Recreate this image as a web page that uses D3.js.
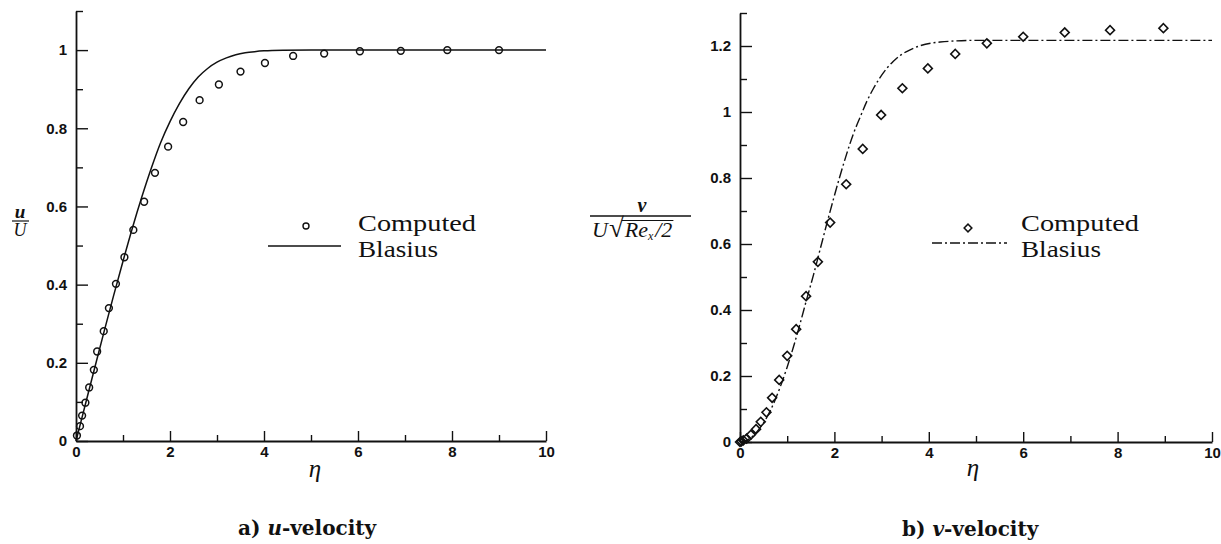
<!DOCTYPE html>
<html>
<head>
<meta charset="utf-8">
<script src="https://cdn.jsdelivr.net/npm/d3@7"></script>
<style>
    body { margin: 0; background: #fff; }
    svg { display: block; }
    .tick text { font-family: "Liberation Sans", Arial, sans-serif; font-size: 15px; font-weight: bold; fill: #111; }
    .serif { font-family: "Liberation Serif", "Times New Roman", serif; fill: #111; }
</style>
</head>
<body>
<svg width="1221" height="544"></svg>
<script>
// axis ticks
var etaTicks = [0, 2, 4, 6, 8, 10];
var etaMinor = [1, 3, 5, 7, 9];
var uTicks = [0, 0.2, 0.4, 0.6, 0.8, 1];
var uMinor = [0.1, 0.3, 0.5, 0.7, 0.9, 1.1];
var vTicks = [0, 0.2, 0.4, 0.6, 0.8, 1, 1.2];
var vMinor = [0.1, 0.3, 0.5, 0.7, 0.9, 1.1, 1.3];

// a) u-velocity, computed points
var uEta = [0.02, 0.085, 0.13, 0.20, 0.28, 0.38, 0.45, 0.59, 0.70, 0.85, 1.03, 1.22, 1.45, 1.68, 1.96, 2.28, 2.63, 3.04, 3.50, 4.02, 4.62, 5.28, 6.04, 6.91, 7.90, 9.00];
var uComputed = [0.014, 0.038, 0.065, 0.098, 0.137, 0.182, 0.229, 0.281, 0.340, 0.402, 0.470, 0.540, 0.612, 0.686, 0.753, 0.816, 0.872, 0.912, 0.945, 0.967, 0.985, 0.991, 0.997, 0.998, 1.0, 1.0];

// a) Blasius curve
var blasiusUEta = [0, 0.2, 0.4, 0.6, 0.8, 1.0, 1.2, 1.4, 1.6, 1.8, 2.0, 2.2, 2.4, 2.6, 2.8, 3.0, 3.2, 3.4, 3.6, 3.8, 4.0, 4.4, 5.0, 6.0, 8.0, 10.0];
var blasiusU = [0, 0.094, 0.188, 0.281, 0.372, 0.460, 0.545, 0.624, 0.697, 0.763, 0.817, 0.863, 0.901, 0.931, 0.953, 0.969, 0.980, 0.988, 0.993, 0.996, 0.998, 0.9995, 1, 1, 1, 1];

// b) v-velocity, computed points
var vEta = [0.0, 0.03, 0.07, 0.14, 0.23, 0.34, 0.44, 0.56, 0.68, 0.83, 1.00, 1.19, 1.40, 1.65, 1.91, 2.25, 2.60, 2.99, 3.44, 3.98, 4.56, 5.23, 6.00, 6.88, 7.84, 8.97];
var vComputed = [0.0, 0.002, 0.005, 0.010, 0.022, 0.039, 0.061, 0.090, 0.134, 0.188, 0.261, 0.342, 0.442, 0.546, 0.665, 0.781, 0.888, 0.991, 1.072, 1.132, 1.176, 1.208, 1.228, 1.241, 1.248, 1.254];

// b) Blasius curve
var blasiusVEta = [0, 0.14, 0.28, 0.42, 0.57, 0.71, 0.85, 0.99, 1.13, 1.27, 1.41, 1.56, 1.70, 1.84, 1.98, 2.12, 2.26, 2.40, 2.55, 2.69, 2.83, 2.97, 3.11, 3.25, 3.39, 3.54, 3.82, 4.24, 4.95, 10.0];
var blasiusV = [0, 0.005, 0.019, 0.042, 0.075, 0.116, 0.166, 0.223, 0.287, 0.357, 0.431, 0.508, 0.585, 0.662, 0.736, 0.807, 0.873, 0.933, 0.986, 1.033, 1.072, 1.105, 1.132, 1.154, 1.171, 1.184, 1.201, 1.212, 1.217, 1.217];

var legendLabels = ['Computed', 'Blasius'];

var svg = d3.select('svg');
var fmt = d3.format('~g');

function zip(xs, ys) {
    return xs.map(function(x, i) { return [x, ys[i]]; });
}

function drawAxes(g, x, y, yTicks, yMinor) {
    var yAxis = g.append('g').attr('transform', 'translate(' + x.range()[0] + ',0)');
    yAxis.call(d3.axisLeft(y).tickValues(yMinor).tickSize(-7).tickSizeOuter(0).tickFormat(''));
    yAxis.append('g').call(d3.axisLeft(y).tickValues(yTicks).tickSize(-12).tickSizeOuter(0).tickPadding(9).tickFormat(fmt))
        .select('.domain').remove();

    var xAxis = g.append('g').attr('transform', 'translate(0,' + y.range()[0] + ')');
    xAxis.call(d3.axisBottom(x).tickValues(etaMinor).tickSize(-6).tickSizeOuter(0).tickFormat(''));
    xAxis.append('g').call(d3.axisBottom(x).tickValues(etaTicks).tickSize(-10).tickSizeOuter(0).tickPadding(5).tickFormat(fmt))
        .select('.domain').remove();

    g.selectAll('.domain').attr('stroke', '#111').attr('stroke-width', 1.8);
    g.selectAll('.tick line').attr('stroke', '#111').attr('stroke-width', 1.4);
}

// legend texts, stretched a little to get the wide look of the original serif
function legendText(g, x) {
    var widths = [118, 80];
    g.selectAll('text.leg').data(legendLabels).enter().append('text')
        .attr('class', 'serif leg')
        .attr('x', x)
        .attr('y', function(d, i) { return 231 + i * 26; })
        .attr('textLength', function(d, i) { return widths[i]; })
        .attr('lengthAdjust', 'spacingAndGlyphs')
        .style('font-size', '23px')
        .text(function(d) { return d; });
}

// ---------- a) u-velocity ----------
var xu = d3.scaleLinear().domain([0, 10]).range([76, 546]);
var yu = d3.scaleLinear().domain([0, 1.1]).range([441, 11]);
var pa = svg.append('g').attr('id', 'uPanel');

drawAxes(pa, xu, yu, uTicks, uMinor);

pa.append('path')
    .datum(zip(blasiusUEta, blasiusU))
    .attr('fill', 'none')
    .attr('stroke', '#111')
    .attr('stroke-width', 1.5)
    .attr('d', d3.line().x(function(d) { return xu(d[0]); }).y(function(d) { return yu(d[1]); }).curve(d3.curveMonotoneX));

pa.selectAll('circle.pt').data(zip(uEta, uComputed)).enter().append('circle')
    .attr('class', 'pt')
    .attr('cx', function(d) { return xu(d[0]); })
    .attr('cy', function(d) { return yu(d[1]); })
    .attr('r', 3.4)
    .attr('fill', 'none')
    .attr('stroke', '#111')
    .attr('stroke-width', 1.5);

// legend
pa.append('circle').attr('cx', 306).attr('cy', 226).attr('r', 3).attr('fill', 'none').attr('stroke', '#111').attr('stroke-width', 1.4);
pa.append('line').attr('x1', 268).attr('x2', 341).attr('y1', 246).attr('y2', 246).attr('stroke', '#111').attr('stroke-width', 1.4);
legendText(pa, 358);

// y label u/U
pa.append('text').attr('class', 'serif').attr('x', 20).attr('y', 218).attr('text-anchor', 'middle')
    .style('font-size', '19px').style('font-style', 'italic').style('font-weight', 'bold').text('u');
pa.append('line').attr('x1', 12).attr('x2', 29).attr('y1', 221).attr('y2', 221).attr('stroke', '#111').attr('stroke-width', 1.2);
pa.append('text').attr('class', 'serif').attr('x', 20).attr('y', 236).attr('text-anchor', 'middle')
    .style('font-size', '18px').style('font-style', 'italic').text('U');

// x label
pa.append('text').attr('class', 'serif').attr('x', 315).attr('y', 477).attr('text-anchor', 'middle')
    .style('font-size', '25px').style('font-style', 'italic').text('η');

// caption
var capA = pa.append('text').attr('x', 238).attr('y', 535)
    .style('font-family', '"DejaVu Serif", serif').style('font-size', '20px').style('font-weight', 'bold').attr('fill', '#111');
capA.append('tspan').text('a) ');
capA.append('tspan').style('font-style', 'italic').text('u');
capA.append('tspan').text('-velocity');

// ---------- b) v-velocity ----------
var xv = d3.scaleLinear().domain([0, 10]).range([740, 1212]);
var yv = d3.scaleLinear().domain([0, 1.3]).range([442, 13]);
var pb = svg.append('g').attr('id', 'vPanel');

drawAxes(pb, xv, yv, vTicks, vMinor);

pb.append('path')
    .datum(zip(blasiusVEta, blasiusV))
    .attr('fill', 'none')
    .attr('stroke', '#111')
    .attr('stroke-width', 1.4)
    .attr('stroke-dasharray', '10,3,2,3')
    .attr('d', d3.line().x(function(d) { return xv(d[0]); }).y(function(d) { return yv(d[1]); }).curve(d3.curveMonotoneX));

var diamond = d3.symbol().type(d3.symbolSquare).size(40);
pb.selectAll('path.pt').data(zip(vEta, vComputed)).enter().append('path')
    .attr('class', 'pt')
    .attr('d', diamond)
    .attr('transform', function(d) { return 'translate(' + xv(d[0]) + ',' + yv(d[1]) + ') rotate(45)'; })
    .attr('fill', 'none')
    .attr('stroke', '#111')
    .attr('stroke-width', 1.6);

// legend
pb.append('path').attr('d', d3.symbol().type(d3.symbolSquare).size(30)).attr('transform', 'translate(968,228) rotate(45)')
    .attr('fill', 'none').attr('stroke', '#111').attr('stroke-width', 1.5);
pb.append('line').attr('x1', 932).attr('x2', 1007).attr('y1', 243).attr('y2', 243)
    .attr('stroke', '#111').attr('stroke-width', 1.4).attr('stroke-dasharray', '10,3,2,3');
legendText(pb, 1021);

// y label v / (U sqrt(Re_x/2))
pb.append('text').attr('class', 'serif').attr('x', 642).attr('y', 212).attr('text-anchor', 'middle')
    .style('font-size', '20px').style('font-style', 'italic').style('font-weight', 'bold').text('v');
pb.append('line').attr('x1', 590).attr('x2', 691).attr('y1', 216).attr('y2', 216).attr('stroke', '#111').attr('stroke-width', 1.3);
var den = pb.append('text').attr('class', 'serif').attr('x', 592).attr('y', 237)
    .style('font-size', '22px').style('font-style', 'italic');
den.append('tspan').text('U');
den.append('tspan').style('font-style', 'normal').style('font-size', '27px').attr('dx', 1).text('√');
den.append('tspan').attr('dx', 1).text('Re');
den.append('tspan').style('font-size', '12px').attr('dy', 3).text('x');
den.append('tspan').attr('dy', -3).attr('dx', 2).text('/2');
// overline of the square root
var dn = den.node();
var sq = dn.getExtentOfChar(1);
var rx1 = dn.getEndPositionOfChar(dn.getNumberOfChars() - 1).x;
pb.append('line').attr('x1', sq.x + sq.width - 2).attr('x2', rx1 + 1)
    .attr('y1', 220.5).attr('y2', 220.5).attr('stroke', '#111').attr('stroke-width', 1.1);

// x label
pb.append('text').attr('class', 'serif').attr('x', 973).attr('y', 476).attr('text-anchor', 'middle')
    .style('font-size', '25px').style('font-style', 'italic').text('η');

// caption
var capB = pb.append('text').attr('x', 902).attr('y', 536)
    .style('font-family', '"DejaVu Serif", serif').style('font-size', '20px').style('font-weight', 'bold').attr('fill', '#111');
capB.append('tspan').text('b) ');
capB.append('tspan').style('font-style', 'italic').text('v');
capB.append('tspan').text('-velocity');
</script>
</body>
</html>
